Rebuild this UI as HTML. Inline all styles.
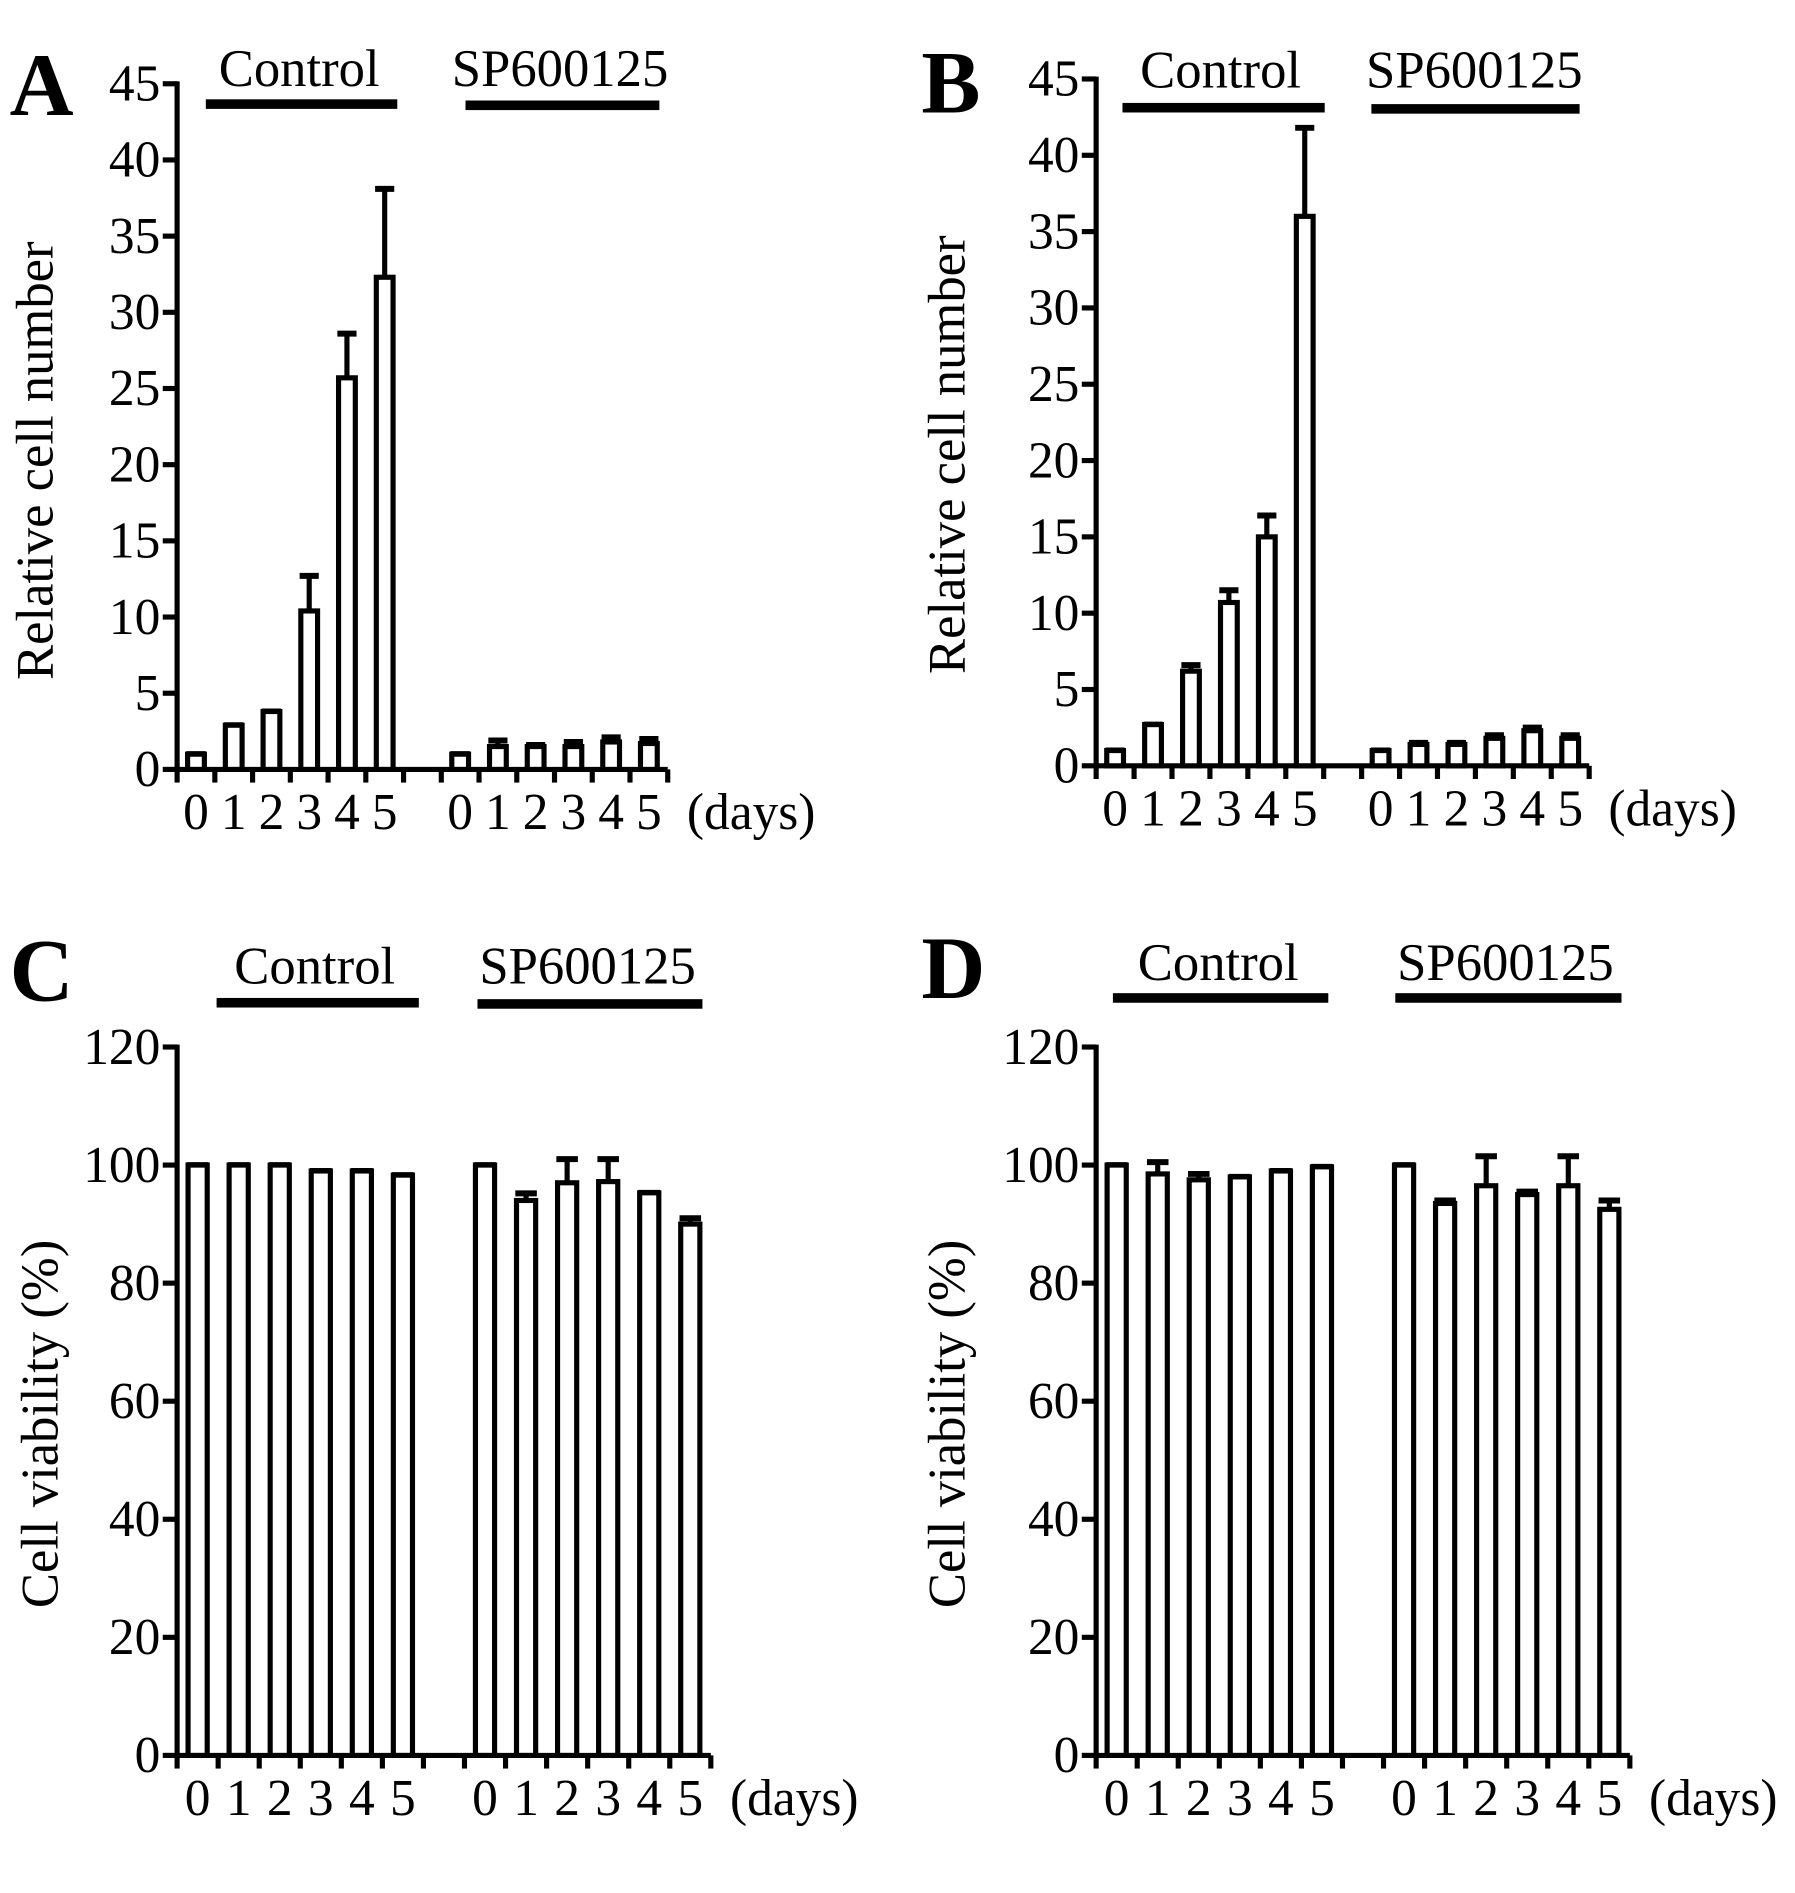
<!DOCTYPE html>
<html><head><meta charset="utf-8"><style>
html,body{margin:0;padding:0;background:#fff;}
svg{display:block;}
text{font-family:"Liberation Serif",serif;fill:#000;}
</style></head><body>
<svg id="fig" width="1795" height="1893" viewBox="0 0 1500 1582" preserveAspectRatio="none" xmlns="http://www.w3.org/2000/svg"></svg>
<script>
// Panel A data
const aCtrl=[1,2.9,3.8,10.4,25.7,32.3];
const aCtrlErr=[0,0,0,2.3,2.9,5.8];
const aSp=[1,1.5,1.5,1.5,1.8,1.7];
const aSpErr=[0,0.4,0.1,0.3,0.3,0.3];
// Panel B data
const bCtrl=[1,2.7,6.2,10.7,15.0,36.0];
const bCtrlErr=[0,0,0.4,0.8,1.4,5.8];
const bSp=[1,1.4,1.4,1.8,2.3,1.8];
const bSpErr=[0,0.1,0.1,0.2,0.2,0.2];
// Panel C data
const cCtrl=[100,100,100,99,99,98.3];
const cCtrlErr=[0,0,0,0,0,0];
const cSp=[100,94,97,97.2,95.3,90];
const cSpErr=[0,1.2,4,3.8,0,1];
// Panel D data
const dCtrl=[100,98.5,97.5,98,99,99.7];
const dCtrlErr=[0,2,1,0,0,0];
const dSp=[100,93.5,96.5,95,96.5,92.5];
const dSpErr=[0,0.5,5,0.5,5,1.5];
const days=['0','1','2','3','4','5'];
const ticksAB=[0,5,10,15,20,25,30,35,40,45];
const ticksCD=[0,20,40,60,80,100,120];

const svg=document.getElementById('fig');
const NS='http://www.w3.org/2000/svg';
function mk(tag,attrs,parent){const e=document.createElementNS(NS,tag);for(const k in attrs)e.setAttribute(k,attrs[k]);(parent||svg).appendChild(e);return e;}

function panel(p){
  const g=mk('g',{});
  
  
  const yS=v=>p.y0-(v/p.ymax)*(p.y0-p.ytop);
  const slot=(p.xEnd-p.x0)/13;
  const xS=i=>p.x0+slot*(i+0.5);
  const sw=4.3;
  const L=mk('text',{x:p.lx,y:p.ly,'font-size':74,'font-weight':'bold'},g);L.textContent=p.letter;
  
  
  const ya=mk('line',{x1:p.x0,y1:p.y0,x2:p.x0,y2:p.ytop-2,stroke:'#000','stroke-width':sw},g);
  
  
  p.ticks.forEach(t=>{
    mk('line',{x1:p.x0-12,y1:yS(t),x2:p.x0,y2:yS(t),stroke:'#000','stroke-width':sw},g);
    const tl=mk('text',{x:p.x0-14,y:yS(t)+14,'font-size':43,'text-anchor':'end'},g);tl.textContent=t;
    
    
  });
  const yt=mk('text',{x:0,y:0,'font-size':44,'text-anchor':'middle',transform:`translate(${p.ylx},${p.ylc}) rotate(-90)`},g);
  yt.textContent=p.ytitle;
  
  
  const xa=mk('line',{x1:p.x0-1,y1:p.y0,x2:p.xEnd,y2:p.y0,stroke:'#000','stroke-width':sw},g);
  
  
  for(let i=0;i<=13;i++){mk('line',{x1:p.x0+slot*i,y1:p.y0,x2:p.x0+slot*i,y2:p.y0+11,stroke:'#000','stroke-width':sw},g);}
  const groups=[[p.ctrl,p.ctrlErr,0,'control'],[p.sp,p.spErr,7,'sp600125']];
  groups.forEach(([vals,errs,off,nm])=>{
    vals.forEach((v,i)=>{
      const cx=xS(i+off);
      if(errs[i]>0){
        const el=mk('line',{x1:cx,y1:yS(v),x2:cx,y2:yS(v+errs[i]),stroke:'#000','stroke-width':sw},g);
        
        
      }
      const cap=mk('line',{x1:cx-p.bw/2-1,y1:yS(v+errs[i]),x2:cx+p.bw/2+1,y2:yS(v+errs[i]),stroke:'#000','stroke-width':5},g);
      
      
      const r=mk('rect',{x:cx-p.bw/2,y:yS(v),width:p.bw,height:p.y0-yS(v),fill:'#fff',stroke:'#000','stroke-width':sw},g);
      
      
      const xl=mk('text',{x:cx,y:p.y0+50,'font-size':43,'text-anchor':'middle'},g);xl.textContent=days[i];
      
      
    });
  });
  const dl=mk('text',{x:p.xEnd+16,y:p.y0+50,'font-size':43},g);dl.textContent='(days)';
  
  
  [['Control',p.h1],['SP600125',p.h2]].forEach(([t,h])=>{
    const ht=mk('text',{x:h.tx,y:h.ty,'font-size':44,'text-anchor':'middle'},g);ht.textContent=t;
    
    
    const hb=mk('rect',{x:h.x1,y:h.by-4,width:h.x2-h.x1,height:8,fill:'#000'},g);
    
    
  });
}

panel({letter:'A',lx:8,ly:96,x0:148,xEnd:558,y0:643,ytop:70,ymax:45,ticks:ticksAB,ylx:44,ylc:385,ytitle:'Relative cell number',bw:14,
  ctrl:aCtrl,ctrlErr:aCtrlErr,sp:aSp,spErr:aSpErr,
  h1:{tx:250,ty:72,x1:172,x2:332,by:87},h2:{tx:468,ty:72,x1:389,x2:551,by:88}});
panel({letter:'B',lx:770,ly:94,x0:916,xEnd:1328,y0:640,ytop:66,ymax:45,ticks:ticksAB,ylx:806,ylc:380,ytitle:'Relative cell number',bw:14,
  ctrl:bCtrl,ctrlErr:bCtrlErr,sp:bSp,spErr:bSpErr,
  h1:{tx:1020,ty:73,x1:938,x2:1107,by:90},h2:{tx:1232,ty:73,x1:1146,x2:1320,by:91}});
panel({letter:'C',lx:8,ly:836,x0:148,xEnd:594,y0:1467,ytop:875,ymax:120,ticks:ticksCD,ylx:48,ylc:1190,ytitle:'Cell viability (%)',bw:16,
  ctrl:cCtrl,ctrlErr:cCtrlErr,sp:cSp,spErr:cSpErr,
  h1:{tx:263,ty:822,x1:181,x2:350,by:838},h2:{tx:491,ty:822,x1:399,x2:587,by:839}});
panel({letter:'D',lx:770,ly:834,x0:916,xEnd:1362,y0:1467,ytop:875,ymax:120,ticks:ticksCD,ylx:806,ylc:1190,ytitle:'Cell viability (%)',bw:16,
  ctrl:dCtrl,ctrlErr:dCtrlErr,sp:dSp,spErr:dSpErr,
  h1:{tx:1018,ty:819,x1:930,x2:1110,by:834},h2:{tx:1258,ty:819,x1:1166,x2:1355,by:834}});
</script>
</body></html>
